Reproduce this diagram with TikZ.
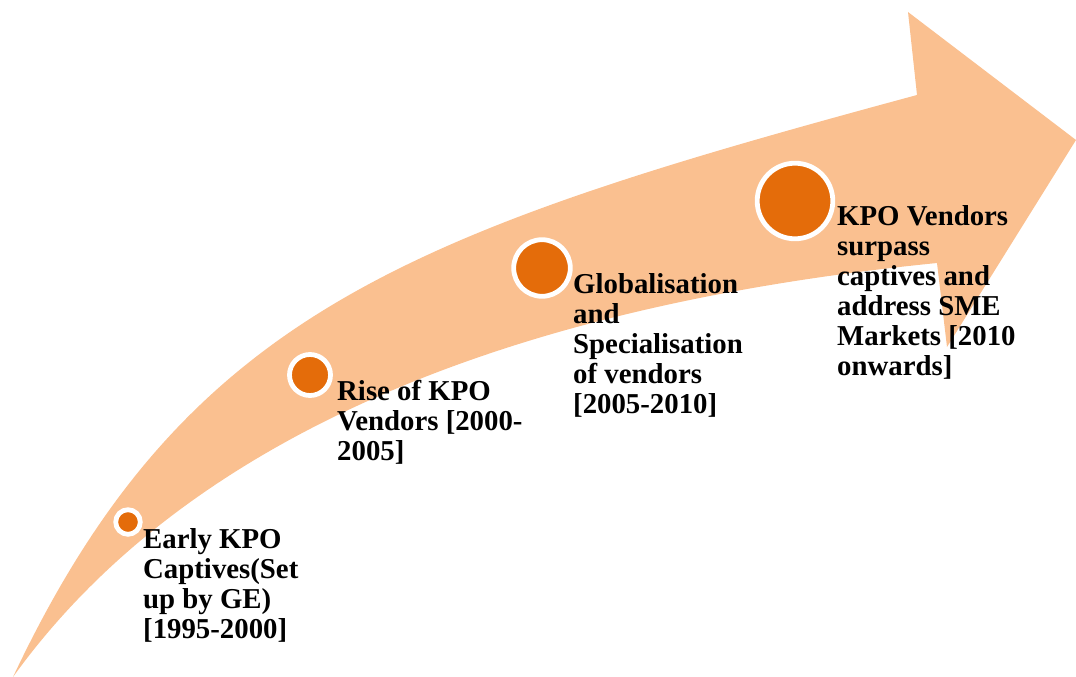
\documentclass[tikz,border=0pt]{standalone}
\usepackage{fontspec}
\setmainfont{Liberation Serif}
\definecolor{peach}{HTML}{FAC090}
\definecolor{dotorange}{HTML}{E46C0A}
\begin{document}
\begin{tikzpicture}[x=1pt,y=-1pt,
  dot/.style={circle, inner sep=0pt, fill=dotorange, draw=white, line width=4.8pt},
  label/.style={anchor=base west, inner sep=0pt, font=\fontsize{28.8}{30}\selectfont\bfseries}]
\useasboundingbox (0,0) rectangle (1076,677);
% curved arrow
\fill[peach] (13,677) .. controls (185,312.5) and (410,232) .. (917,95)
  -- (908,12) -- (1076,140) -- (947,347) -- (937,263)
  .. controls (637,293) and (226,381) .. (13,677) -- cycle;
% milestones
\node[dot, minimum size=24.6pt] (c1) at (128,522) {};
\node[dot, minimum size=41pt] (c2) at (310,375) {};
\node[dot, minimum size=56.6pt] (c3) at (542,268) {};
\node[dot, minimum size=75.6pt] (c4) at (795,201) {};
% labels
\node[label] (t1) at (143,548) {\begin{tabular}[t]{@{}l@{}}Early KPO\\Captives(Set\\up by GE)\\{[1995-2000]}\end{tabular}};
\node[label] (t2) at (337,400) {\begin{tabular}[t]{@{}l@{}}Rise of KPO\\Vendors [2000-\\2005]\end{tabular}};
\node[label] (t3) at (573,293) {\begin{tabular}[t]{@{}l@{}}Globalisation\\and\\Specialisation\\of vendors\\{[2005-2010]}\end{tabular}};
\node[label] (t4) at (837,225) {\begin{tabular}[t]{@{}l@{}}KPO Vendors\\surpass\\captives and\\address SME\\Markets [2010\\onwards]\end{tabular}};
\end{tikzpicture}
\end{document}
